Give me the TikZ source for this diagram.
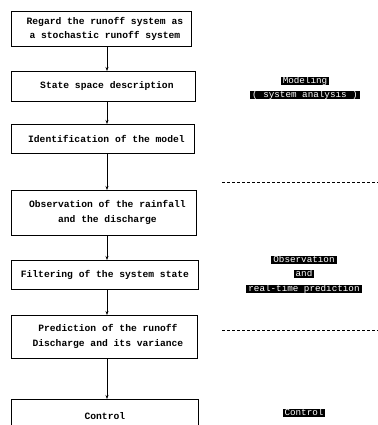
\documentclass[tikz,border=0pt]{standalone}
\usepackage{fontspec}
\setmonofont{Liberation Mono}
\usetikzlibrary{arrows.meta}
\newcommand\shiftln{\hspace*{7bp}}
\begin{document}
\begin{tikzpicture}[x=1bp,y=-1bp,
  stepbox/.style={draw,line width=0.8bp,rectangle,align=center,
    font=\ttfamily\bfseries\fontsize{9.7}{15}\selectfont,inner sep=0pt,anchor=north west},
  tag/.style={fill=black,text=white,font=\ttfamily\fontsize{9.3}{10}\selectfont,
    inner xsep=2bp,inner ysep=0.3bp,text height=6bp,text depth=1.5bp},
  flow/.style={-{Stealth[length=4bp,width=3bp]},line width=0.8bp},
  sep/.style={line width=0.6bp,dash pattern=on 3bp off 2bp}]
\useasboundingbox (0,0) rectangle (378,425);
\node[stepbox,minimum width=180bp,minimum height=35bp] (b1) at (11,11)
  {\shiftln Regard the runoff system as\\\shiftln a stochastic runoff system};
\node[stepbox,minimum width=184bp,minimum height=30bp] (b2) at (11,71)
  {\shiftln State space description};
\node[stepbox,minimum width=183bp,minimum height=29bp] (b3) at (11,124)
  {\shiftln Identification of the model};
\node[stepbox,minimum width=185bp,minimum height=45bp] (b4) at (11,190)
  {\shiftln Observation of the rainfall\\\shiftln and the discharge};
\node[stepbox,minimum width=187bp,minimum height=29bp] (b5) at (11,260)
  {Filtering of the system state};
\node[stepbox,minimum width=186bp,minimum height=43bp] (b6) at (11,315)
  {\shiftln Prediction of the runoff\\\shiftln Discharge and its variance};
\node[stepbox,minimum width=187bp,minimum height=33bp] (b7) at (11,399)
  {Control};
\coordinate (ax) at (107,0);
\draw[flow] (b1.south -| ax) -- (b2.north -| ax);
\draw[flow] (b2.south -| ax) -- (b3.north -| ax);
\draw[flow] (b3.south -| ax) -- (b4.north -| ax);
\draw[flow] (b4.south -| ax) -- (b5.north -| ax);
\draw[flow] (b5.south -| ax) -- (b6.north -| ax);
\draw[flow] (b6.south -| ax) -- (b7.north -| ax);
\coordinate (d1a) at (222,182);
\coordinate (d1b) at (378,182);
\coordinate (d2a) at (222,330);
\coordinate (d2b) at (378,330);
\draw[sep] (d1a) -- (d1b);
\draw[sep] (d2a) -- (d2b);
\node[tag] (t1) at (305,81) {Modeling};
\node[tag] (t2) at (305,95) {( system analysis )};
\node[tag] (t3) at (304,260) {Observation};
\node[tag] (t4) at (304,274) {and};
\node[tag] (t5) at (304,289) {real-time prediction};
\node[tag] (t6) at (304,413) {Control};
\end{tikzpicture}
\end{document}
